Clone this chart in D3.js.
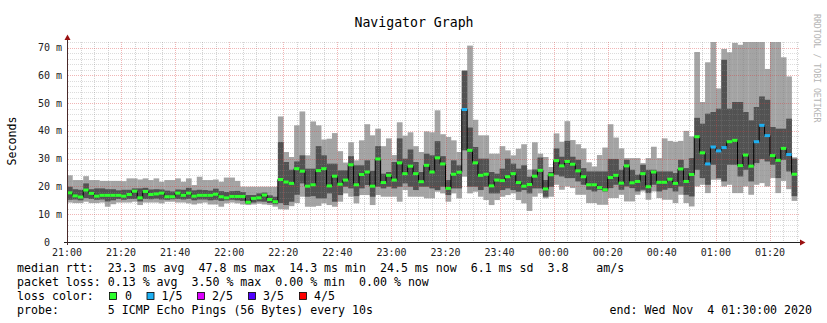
<!DOCTYPE html>
<html>
<head>
<meta charset="utf-8">
<script src="https://cdn.jsdelivr.net/npm/d3@7"></script>
<style>
  body { margin: 0; background: #fff; }
  text { font-family: "DejaVu Sans Mono", monospace; white-space: pre; }
</style>
</head>
<body>
<svg id="chart" width="827" height="323"></svg>
<script>
// Smokeping navigator graph, 2 minute steps from 21:00 to 01:30
// each step: lightest smoke (min..max), dark smoke (2nd..4th ping), median and loss
const smokeMin = [
  14.2,14.0,14.0,14.5,14.0,14.0,14.2,12.7,13.6,14.2,14.2,14.2,14.5,13.3,14.2,14.2,14.2,13.9,14.5,14.5,
  14.2,14.2,13.9,13.5,13.9,14.2,13.5,13.5,12.7,13.9,14.2,13.9,13.5,13.3,13.5,13.8,13.5,13.3,12.7,11.8,
  11.7,12.9,14.0,16.3,12.7,12.7,13.0,13.9,13.3,12.7,14.5,17.5,16.3,13.9,16.9,16.9,13.3,16.9,16.3,16.3,
  16.3,14.5,18.7,16.3,16.3,16.3,15.7,15.7,18.1,17.5,14.5,17.5,15.7,23.5,17.5,18.1,16.3,15.1,13.3,15.1,
  16.3,16.9,17.5,15.1,13.9,11.2,16.3,17.5,15.7,16.3,20.6,18.8,20.0,19.4,17.0,17.0,14.0,14.0,13.4,13.4,
  15.8,15.8,17.0,14.6,14.6,17.0,18.2,15.2,18.2,15.8,15.2,15.2,14.0,17.0,14.0,12.8,20.0,20.6,17.6,22.4,
  22.4,20.0,20.6,17.6,17.6,20.0,17.0,20.6,21.2,20.0,23.0,17.6,22.0,19.0,14.8
];
const smokeLow = [
  15.2,15.3,15.0,15.8,15.5,15.2,15.3,14.6,15.0,15.5,15.2,15.5,15.5,14.6,15.5,15.4,15.6,15.3,15.2,15.4,
  15.5,15.3,15.5,15.0,15.3,15.3,15.0,15.2,14.8,15.0,15.2,15.0,14.8,13.7,14.2,14.6,14.5,14.0,13.6,14.0,
  13.3,14.5,17.0,21.1,16.3,16.5,15.7,15.7,17.5,14.5,16.9,19.9,19.3,16.5,19.3,20.5,16.3,19.9,19.3,19.9,
  19.3,19.9,21.1,19.9,18.7,19.9,19.9,19.3,18.7,19.9,16.9,19.3,19.3,33.0,19.9,19.9,18.7,19.9,17.5,17.5,
  18.7,19.3,18.7,18.1,18.7,17.5,19.3,19.3,16.3,19.9,24.2,23.6,23.0,23.0,21.8,20.6,18.8,18.2,18.8,18.2,
  19.4,20.6,18.8,20.0,19.4,18.2,18.8,17.6,20.6,18.2,18.8,19.4,18.2,20.0,17.0,16.4,26.0,23.0,20.6,27.8,
  23.0,21.8,27.8,27.8,23.6,26.0,21.8,28.4,29.9,29.0,27.8,23.0,29.6,25.4,16.5
];
const median = [
  17.7,16.6,16.2,18.7,17.5,16.5,16.8,16.8,16.8,16.8,16.5,17.1,18.3,15.9,18.2,17.1,17.3,17.6,16.3,16.3,
  17.6,16.8,17.6,16.5,16.8,16.8,16.8,17.2,16.3,15.9,16.4,16.4,16.4,14.3,15.7,15.9,16.9,15.3,14.5,22.5,
  21.6,21.1,26.4,25.5,20.1,20.6,25.7,26.4,20.2,23.7,20.8,22.3,27.8,20.6,24.3,25.2,20.1,29.9,21.4,24.0,
  22.3,28.5,24.6,27.3,24.6,21.7,27.6,25.2,30.3,28.1,19.3,24.4,25.1,47.7,33.0,28.5,24.0,24.4,20.2,22.3,
  22.1,23.5,24.6,21.4,20.1,20.7,23.7,25.8,19.1,24.2,29.3,27.4,29.0,28.0,25.6,23.5,20.6,20.6,19.6,18.8,
  23.2,24.0,21.2,27.4,21.3,21.8,24.6,19.9,25.2,21.5,21.5,22.6,21.1,26.3,21.8,24.3,37.9,32.1,28.1,34.2,
  32.8,34.0,36.1,36.6,27.5,31.3,27.3,36.1,42.0,38.3,31.1,29.4,33.7,31.5,24.4
];
const smokeHigh = [
  19.9,19.0,18.8,21.1,19.0,19.3,19.3,19.0,19.0,18.6,18.8,18.8,19.3,19.3,19.5,18.9,19.0,18.9,18.5,18.2,
  18.9,18.8,19.5,18.6,18.8,18.7,18.5,19.2,18.3,18.0,18.3,18.4,18.0,16.9,16.9,17.5,17.8,16.8,16.3,36.0,
  28.8,26.0,29.0,31.2,26.4,26.4,34.5,31.2,28.2,28.2,25.8,25.8,30.9,27.6,27.6,29.4,25.6,34.5,24.6,25.2,
  28.8,37.3,30.0,33.3,28.8,25.2,31.8,31.2,36.3,30.9,22.3,29.4,27.6,61.7,41.2,34.2,30.0,30.0,25.2,24.6,
  26.4,30.0,28.2,26.4,27.6,23.5,26.1,30.4,22.3,25.2,33.7,30.7,36.4,30.7,29.6,26.6,25.4,25.4,25.4,25.4,
  29.9,29.9,26.0,29.6,26.0,24.2,27.8,26.0,26.0,25.4,25.4,25.4,24.8,29.6,26.6,30.2,44.7,42.6,46.2,46.8,
  48.0,65.6,48.0,50.4,50.4,46.8,43.8,48.6,52.4,51.2,41.4,40.8,40.8,44.4,30.0
];
const smokeMax = [
  24.0,22.3,22.3,23.7,22.3,22.3,22.0,22.0,22.0,22.0,21.9,22.9,22.9,22.5,22.9,22.3,22.9,21.7,22.3,22.3,
  22.9,21.7,22.9,20.5,23.5,22.3,22.3,22.5,21.7,23.2,23.2,22.0,19.9,19.9,19.9,19.9,19.9,19.9,19.9,45.2,
  32.4,30.6,42.0,47.0,31.2,43.4,42.0,36.9,37.2,39.2,32.7,28.6,35.9,29.4,36.6,42.4,38.4,40.8,34.5,37.3,
  31.3,43.1,38.3,39.5,34.5,32.4,39.8,39.5,47.4,38.8,37.8,36.6,32.4,61.7,70.7,44.0,38.4,38.4,31.8,31.8,
  34.5,33.0,31.2,33.6,35.2,26.1,35.9,31.8,30.6,27.0,39.1,36.1,43.5,36.7,35.2,33.7,28.7,27.2,31.3,34.0,
  42.4,37.6,33.7,30.2,30.2,30.2,28.4,30.2,34.3,30.2,37.3,36.4,36.1,36.4,40.0,38.0,68.4,50.4,64.7,72.0,
  55.3,69.5,68.3,71.7,71.0,72.0,72.0,72.0,72.0,62.3,72.0,72.0,66.5,59.6,30.5
];
// pings lost out of 5 in each step
const lost = [
  0,0,0,0,0,0,0,0,0,0,0,0,0,0,0,0,0,0,0,0,0,0,0,0,0,0,0,0,0,0,0,0,0,0,0,0,0,0,0,0,
  0,0,0,0,0,0,0,0,0,0,0,0,0,0,0,0,0,0,0,0,0,0,0,0,0,0,0,0,0,0,0,0,0,1,0,0,0,0,0,0,
  0,0,0,0,0,0,0,0,0,0,0,0,0,0,0,0,0,0,0,0,0,0,0,0,0,0,0,0,0,0,0,0,0,0,0,0,0,0,1,1,
  1,1,0,0,0,0,0,1,1,1,0,0,0,1,0
];

const lossColors = ["#2cff2c", "#1eb0f2", "#dd00ff", "#5000ff", "#ff0000"];
const lossLabels = ["0", "1/5", "2/5", "3/5", "4/5"];

const legendLines = [
  "median rtt:  23.3 ms avg  47.8 ms max  14.3 ms min  24.5 ms now  6.1 ms sd  3.8    am/s",
  "packet loss: 0.13 % avg  3.50 % max  0.00 % min  0.00 % now",
  "loss color:",
  "probe:       5 ICMP Echo Pings (56 Bytes) every 10s"
];
const endLabel = "end: Wed Nov  4 01:30:00 2020";

const svg = d3.select("#chart");
const t0 = new Date(2020, 10, 3, 21, 0);
const t1 = new Date(2020, 10, 4, 1, 30);
const stepStart = i => d3.timeMinute.offset(t0, i * 2);

const x = d3.scaleTime().domain([t0, t1]).range([67, 797]);
const y = d3.scaleLinear().domain([0, 72]).range([242, 42]);

svg.append("rect").attr("width", 827).attr("height", 323).attr("fill", "#fff");

svg.append("defs").append("clipPath").attr("id", "plot")
  .append("rect").attr("x", 67).attr("y", 42).attr("width", 731).attr("height", 200);

const plot = svg.append("g").attr("clip-path", "url(#plot)");
const steps = d3.range(median.length);

// outer smoke
plot.append("g").selectAll("rect").data(steps).enter().append("rect")
  .attr("x", i => x(stepStart(i)))
  .attr("width", i => x(stepStart(i + 1)) - x(stepStart(i)) + 0.3)
  .attr("y", i => y(smokeMax[i]))
  .attr("height", i => y(smokeMin[i]) - y(smokeMax[i]))
  .attr("fill", "#a4a4a4");

// inner smoke
plot.append("g").selectAll("rect").data(steps).enter().append("rect")
  .attr("x", i => x(stepStart(i)))
  .attr("width", i => x(stepStart(i + 1)) - x(stepStart(i)) + 0.3)
  .attr("y", i => y(smokeHigh[i]))
  .attr("height", i => y(smokeLow[i]) - y(smokeHigh[i]))
  .attr("fill", "#525252");

// grid over the smoke, under the median line
const grid = svg.append("g").attr("fill", "none").attr("stroke-dasharray", "1,1");
const minorY = y.ticks(36).filter(v => v % 10 !== 0);
const majorY = d3.range(10, 71, 10);
const minorX = d3.timeMinute.every(5).range(t0, d3.timeMinute.offset(t1, 1))
  .filter(d => d.getMinutes() % 20 !== 0);
const majorX = d3.timeMinute.every(20).range(t0, t1);
grid.selectAll(".hy").data(minorY).enter().append("line")
  .attr("x1", 68).attr("x2", 799)
  .attr("y1", d => Math.round(y(d)) + 0.5).attr("y2", d => Math.round(y(d)) + 0.5)
  .attr("stroke", "rgba(140,140,140,0.3)");
grid.selectAll(".vx").data(minorX).enter().append("line")
  .attr("x1", d => Math.round(x(d)) + 0.5).attr("x2", d => Math.round(x(d)) + 0.5)
  .attr("y1", 42).attr("y2", 242)
  .attr("stroke", "rgba(130,130,130,0.35)");
grid.selectAll(".my").data(majorY).enter().append("line")
  .attr("x1", 68).attr("x2", 799)
  .attr("y1", d => Math.round(y(d)) + 0.5).attr("y2", d => Math.round(y(d)) + 0.5)
  .attr("stroke", "rgba(215,60,60,0.38)");
grid.selectAll(".mx").data(majorX.slice(1)).enter().append("line")
  .attr("x1", d => Math.round(x(d)) + 0.5).attr("x2", d => Math.round(x(d)) + 0.5)
  .attr("y1", 42).attr("y2", 242)
  .attr("stroke", "rgba(215,60,60,0.38)");

// median as a step line, then loss coloured segments on top
const med = svg.append("g").attr("clip-path", "url(#plot)");
const pts = steps.map(i => [stepStart(i), median[i]]);
pts.push([stepStart(median.length), median[median.length - 1]]);
med.append("path")
  .attr("d", d3.line().x(d => x(d[0])).y(d => y(d[1])).curve(d3.curveStepAfter)(pts))
  .attr("fill", "none").attr("stroke", "#000").attr("stroke-width", 1);

med.append("g").selectAll("rect").data(steps).enter().append("rect")
  .attr("x", i => x(stepStart(i)))
  .attr("width", i => x(stepStart(i + 1)) - x(stepStart(i)))
  .attr("y", i => y(median[i]) - 1.5)
  .attr("height", 3)
  .attr("fill", i => lossColors[lost[i]]);

// axes
svg.append("line").attr("x1", 64).attr("x2", 801).attr("y1", 242.5).attr("y2", 242.5)
  .attr("stroke", "#222");
svg.append("line").attr("x1", 67.5).attr("x2", 67.5).attr("y1", 245).attr("y2", 38)
  .attr("stroke", "#4a2a2a");
svg.append("path").attr("d", "M800,239.5L805.5,242.5L800,245.5Z").attr("fill", "#9a1010");
svg.append("path").attr("d", "M64.5,40L67.5,34.5L70.5,40Z").attr("fill", "#9a1010");

// tick labels
svg.append("g").selectAll("text").data(d3.range(0, 71, 10)).enter().append("text")
  .attr("x", 62).attr("y", d => y(d) + 3.5)
  .attr("text-anchor", "end").attr("font-size", 10).attr("fill", "#222")
  .text(d => d === 0 ? "0  " : d + " m");

svg.append("g").selectAll("text").data(majorX).enter().append("text")
  .attr("x", d => x(d)).attr("y", 255.5)
  .attr("text-anchor", "middle").attr("font-size", 10).attr("fill", "#222")
  .text(d3.timeFormat("%H:%M"));

// titles
svg.append("text").attr("x", 414).attr("y", 27).attr("text-anchor", "middle")
  .attr("font-size", 13.2).attr("fill", "#000").text("Navigator Graph");
svg.append("text").attr("transform", "translate(16,141) rotate(-90)")
  .attr("text-anchor", "middle").attr("font-size", 11.6).attr("fill", "#000").text("Seconds");
svg.append("text").attr("transform", "translate(814,14) rotate(90)")
  .attr("font-size", 8.2).attr("fill", "#b4b4b4").text("RRDTOOL / TOBI OETIKER");

// legend
const legendY = [271.5, 285.7, 300, 314.2];
svg.append("g").selectAll("text").data(legendLines).enter().append("text")
  .attr("x", 17).attr("y", (d, i) => legendY[i])
  .attr("font-size", 11.6).attr("fill", "#000").text(d => d);

const boxX = [109.5, 147, 197.5, 248.5, 299.5];
const labelX = [125, 161.5, 212, 263, 314];
const lg = svg.append("g");
lg.selectAll("rect").data(lossColors).enter().append("rect")
  .attr("x", (d, i) => boxX[i]).attr("y", 292.5).attr("width", 7).attr("height", 7)
  .attr("fill", d => d).attr("stroke", "#000").attr("stroke-width", 0.8);
lg.selectAll("text").data(lossLabels).enter().append("text")
  .attr("x", (d, i) => labelX[i]).attr("y", legendY[2])
  .attr("font-size", 11.6).attr("fill", "#000").text(d => d);

svg.append("text").attr("x", 812).attr("y", legendY[3]).attr("text-anchor", "end")
  .attr("font-size", 11.6).attr("fill", "#000").text(endLabel);
</script>
</body>
</html>
